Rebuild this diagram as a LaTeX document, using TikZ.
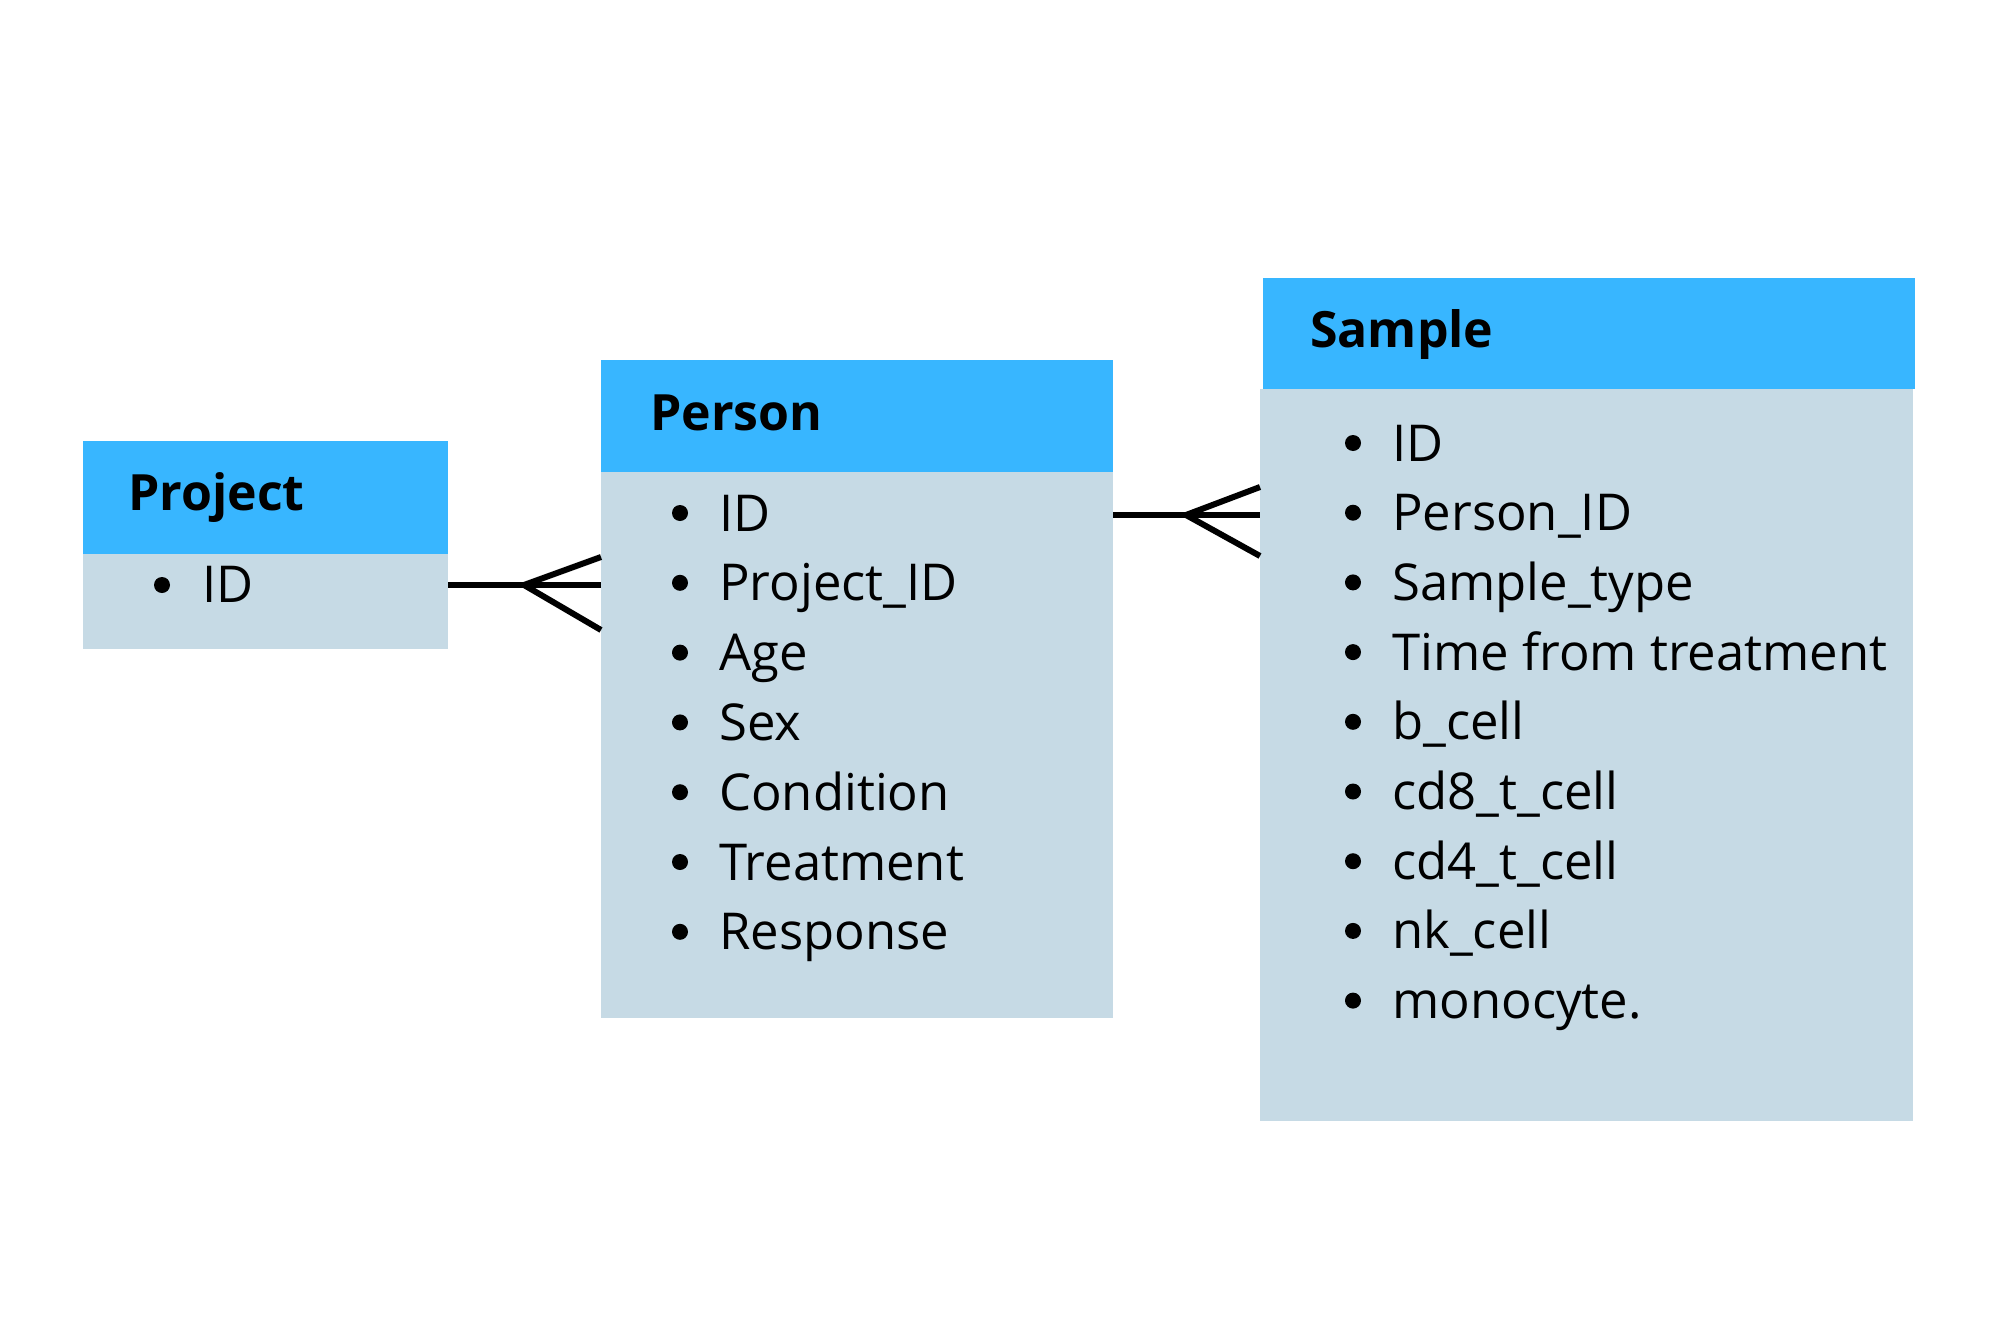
\documentclass[tikz,border=0pt]{standalone}
\usepackage{fontspec}
\setmainfont{Open Sans}
\usetikzlibrary{positioning}
\definecolor{hdrblue}{HTML}{38B6FF}
\definecolor{bodyblue}{HTML}{C6DAE5}
\begin{document}
\begin{tikzpicture}[x=1pt,y=-1pt,
  hdr/.style={fill=hdrblue, draw=none, anchor=north west, inner sep=0pt, outer sep=0pt},
  bodybox/.style={fill=bodyblue, draw=none, anchor=north west, inner sep=0pt, outer sep=0pt},
  ttl/.style={anchor=base west, inner sep=0pt, font=\fontsize{50}{60}\selectfont\bfseries},
  itm/.style={anchor=base west, inner sep=0pt, font=\fontsize{50.8}{60}\selectfont},
  blt/.style={circle, fill=black, inner sep=0pt, minimum size=16pt},
  rel/.style={line width=6pt, draw=black}
]
\useasboundingbox (0,0) rectangle (2000,1333);
\fill[white] (0,0) rectangle (2000,1333);

% Project
\node[bodybox, minimum width=365pt, minimum height=95pt] (projB) at (83,554) {};
\node[hdr, minimum width=365pt, minimum height=113pt] (projH) at (83,441) {};
\node[ttl] (projT) at (128,510) {Project};
\node[blt] (pb1) at (162,585) {};
\node[itm] (pi1) at (202,602) {ID};

% Person
\node[bodybox, minimum width=512pt, minimum height=546pt] (persB) at (601,472) {};
\node[hdr, minimum width=512pt, minimum height=112pt] (persH) at (601,360) {};
\node[ttl] (persT) at (650,430) {Person};
\foreach \t [count=\i from 0] in {ID,Project\_ID,Age,Sex,Condition,Treatment,Response}{
  \node[blt] (persb\i) at (680,{513+69.8*\i}) {};
  \node[itm] (persi\i) at (719,{531+69.8*\i}) {\t};
}

% Sample
\node[bodybox, minimum width=653pt, minimum height=732pt] (sampB) at (1260,389) {};
\node[hdr, minimum width=652pt, minimum height=111pt] (sampH) at (1263,278) {};
\node[ttl] (sampT) at (1310,347) {Sample};
\foreach \t [count=\i from 0] in {ID,Person\_ID,Sample\_type,Time from treatment,b\_cell,cd8\_t\_cell,cd4\_t\_cell,nk\_cell,monocyte.}{
  \node[blt] (sampb\i) at (1353,{443+69.7*\i}) {};
  \node[itm] (sampi\i) at (1392,{461+69.7*\i}) {\t};
}

% Relations
\coordinate (r1s) at (projB.east |- 0,585);
\coordinate (r1a) at (524,585);
\coordinate (r1e) at (persB.west |- 0,585);
\coordinate (r1u) at (persB.west |- 0,557);
\coordinate (r1d) at (persB.west |- 0,630);
\draw[rel] (r1s) -- (r1e);
\draw[rel] (r1u) -- (r1a) -- (r1d);

\coordinate (r2s) at (persB.east |- 0,515);
\coordinate (r2a) at (1186,515);
\coordinate (r2e) at (sampB.west |- 0,515);
\coordinate (r2u) at (sampB.west |- 0,487);
\coordinate (r2d) at (sampB.west |- 0,556);
\draw[rel] (r2s) -- (r2e);
\draw[rel] (r2u) -- (r2a) -- (r2d);
\end{tikzpicture}
\end{document}
